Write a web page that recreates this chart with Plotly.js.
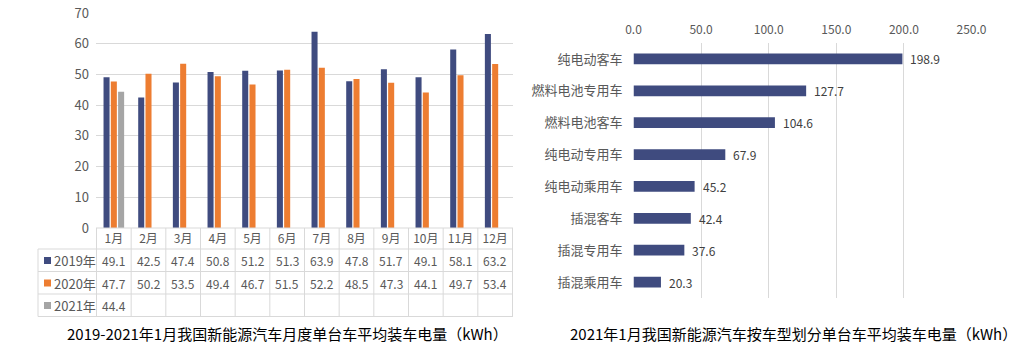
<!DOCTYPE html>
<html><head><meta charset="utf-8">
<script src="https://cdn.plot.ly/plotly-3.0.1.min.js"></script>
<style>html,body{margin:0;padding:0;background:#fff}#c{width:1032px;height:362px}</style>
</head><body><div id="c"></div>
<script>
const months = ['1月','2月','3月','4月','5月','6月','7月','8月','9月','10月','11月','12月'];
const seriesNames = ['2019年','2020年','2021年'];
const v2019 = [49.1,42.5,47.4,50.8,51.2,51.3,63.9,47.8,51.7,49.1,58.1,63.2];
const v2020 = [47.7,50.2,53.5,49.4,46.7,51.5,52.2,48.5,47.3,44.1,49.7,53.4];
const v2021 = [44.4,null,null,null,null,null,null,null,null,null,null,null];
const seriesColors = ['#3F4B7F','#ED7D31','#A5A5A5'];

const vehicleTypes = ['纯电动客车','燃料电池专用车','燃料电池客车','纯电动专用车','纯电动乘用车','插混客车','插混专用车','插混乘用车'];
const typeValues = [198.9,127.7,104.6,67.9,45.2,42.4,37.6,20.3];

const leftTitle = '2019-2021年1月我国新能源汽车月度单台车平均装车电量（kWh）';
const rightTitle = '2021年1月我国新能源汽车按车型划分单台车平均装车电量（kWh）';

const W = 1032, H = 362;
const px = x => x / W;
const py = y => (H - y) / H;
const grid = '#D9D9D9';
const txt = '#595959';
const FONT = '"Noto Sans CJK SC", "Noto Sans", sans-serif';

const allSeries = [v2019, v2020, v2021];
const traces = allSeries.map((vals, k) => ({
  type: 'bar', x: months, y: vals, name: seriesNames[k],
  marker: {color: seriesColors[k]}, xaxis: 'x', yaxis: 'y', hoverinfo: 'skip'
}));
traces.push({
  type: 'bar', orientation: 'h', x: typeValues, y: vehicleTypes,
  marker: {color: seriesColors[0]}, xaxis: 'x2', yaxis: 'y2', hoverinfo: 'skip',
  width: 0.34
});

const shapes = [];
const annotations = [];
// table rows (pixel y)
const rowTop = 228, rowLines = [249, 271.5, 294, 316.5];
const rowCenters = [260.5, 283, 305.5];
const tableLeft = 38, plotLeft = 96, plotRight = 513;
// vertical boundaries between month columns
for (let i = 0; i <= months.length; i++) {
  shapes.push({type:'line', xref:'x', yref:'paper', x0:i-0.5, x1:i-0.5, y0:py(rowLines[3]), y1:py(rowTop), line:{color:grid, width:1}});
}
shapes.push({type:'line', xref:'paper', yref:'paper', x0:px(tableLeft), x1:px(tableLeft), y0:py(rowLines[3]), y1:py(rowLines[0]), line:{color:grid, width:1}});
rowLines.forEach(y => shapes.push({type:'line', xref:'paper', yref:'paper', x0:px(tableLeft), x1:px(plotRight), y0:py(y), y1:py(y), line:{color:grid, width:1}}));
shapes.push({type:'line', xref:'paper', yref:'paper', x0:px(plotLeft), x1:px(plotRight), y0:py(rowTop), y1:py(rowTop), line:{color:grid, width:1}});

allSeries.forEach((vals, k) => {
  const yc = rowCenters[k];
  shapes.push({type:'rect', xref:'paper', yref:'paper', x0:px(44), x1:px(51), y0:py(yc+3.5), y1:py(yc-3.5), fillcolor:seriesColors[k], line:{width:0}});
  annotations.push({xref:'paper', yref:'paper', x:px(52), y:py(yc), xanchor:'left', yanchor:'middle', showarrow:false, text:seriesNames[k], font:{family:FONT, size:13, color:txt}});
  vals.forEach((v, i) => {
    if (v === null) return;
    annotations.push({xref:'x', yref:'paper', x:months[i], y:py(yc), xanchor:'center', yanchor:'middle', showarrow:false, text:v.toFixed(1), font:{family:FONT, size:12, color:txt}});
  });
});
// right chart value labels
typeValues.forEach((v, i) => {
  annotations.push({xref:'x2', yref:'y2', x:v, y:vehicleTypes[i], xanchor:'left', yanchor:'middle', xshift:6, showarrow:false, text:v.toFixed(1), font:{family:FONT, size:12, color:'#404040'}});
});
// titles
annotations.push({xref:'paper', yref:'paper', x:px(287), y:py(333), xanchor:'center', yanchor:'middle', showarrow:false, text:leftTitle, font:{family:FONT, size:15, color:'#000'}});
annotations.push({xref:'paper', yref:'paper', x:px(793), y:py(333), xanchor:'center', yanchor:'middle', showarrow:false, text:rightTitle, font:{family:FONT, size:15, color:'#000'}});

const layout = {
  width: W, height: H, margin: {l:0, r:0, t:0, b:0},
  paper_bgcolor:'#fff', plot_bgcolor:'rgba(0,0,0,0)',
  showlegend: false, barmode: 'group', bargap: 0.37, bargroupgap: 0.17,
  font: {family: FONT, color: txt},
  xaxis: {domain:[px(plotLeft), px(plotRight)], anchor:'y', type:'category', showgrid:false, zeroline:false, ticks:'', tickfont:{size:12, color:txt, family:FONT}, ticklabelstandoff:2, fixedrange:true},
  yaxis: {domain:[py(228), py(13)], anchor:'x', range:[0,70], dtick:10, showgrid:true, gridcolor:grid, zeroline:false, ticks:'', tickfont:{size:13, color:txt, family:FONT}, ticklabelstandoff:6, fixedrange:true},
  xaxis2: {domain:[px(633.5), px(971.5)], anchor:'y2', side:'top', range:[0,250], dtick:50, tickformat:'.1f', showgrid:true, gridcolor:grid, zeroline:false, ticks:'', tickfont:{size:12, color:txt, family:FONT}, ticklabelstandoff:6, fixedrange:true},
  yaxis2: {domain:[py(298), py(43)], anchor:'x2', type:'category', autorange:'reversed', showgrid:false, zeroline:false, ticks:'', tickfont:{size:13, color:txt, family:FONT}, ticklabelstandoff:10, fixedrange:true},
  shapes, annotations
};
Plotly.newPlot('c', traces, layout, {displayModeBar:false, staticPlot:true});
</script></body></html>
